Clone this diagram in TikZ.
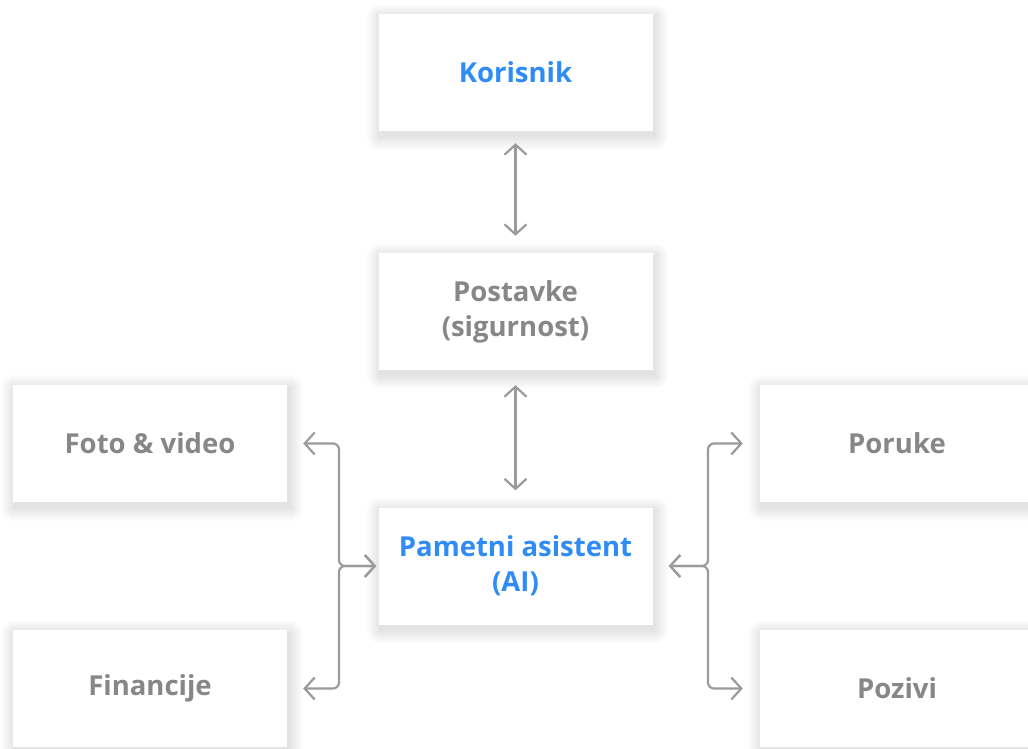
\documentclass[tikz,border=0pt]{standalone}
\usepackage{fontspec}
\setmainfont{Open Sans}
\usetikzlibrary{arrows.meta,backgrounds}
\definecolor{lineg}{HTML}{9B9B9B}
\definecolor{txtg}{HTML}{878787}
\definecolor{txtb}{HTML}{2F8CF6}
\tikzset{
  box/.style={rectangle, fill=white, minimum width=274pt, minimum height=117pt, inner sep=0pt,
    align=center, font=\bfseries\fontsize{27.5}{35}\selectfont, text=txtg},
  hl/.style={text=txtb},
  shadowlayer/.style={fill=black, opacity=0.007},
  conn/.style={draw=lineg, line width=2.2pt, {Straight Barb[length=10pt,width=22pt]}-{Straight Barb[length=10pt,width=22pt]}, rounded corners=6pt}
}
\begin{document}
\begin{tikzpicture}[x=1pt,y=-1pt]
\useasboundingbox (0,0) rectangle (1028,749);
\node[box,hl] (kor) at (515.5,72.5) {Korisnik};
\node[box] (post) at (515.5,311.5) {Postavke\\(sigurnost)};
\node[box,hl] (pam) at (515.5,566) {Pametni asistent\\(AI)};
\node[box] (foto) at (150,443.5) {Foto \& video};
\node[box] (fin) at (150,688.5) {Financije};
\node[box] (por) at (897,443.5) {Poruke};
\node[box] (poz) at (897,688.5) {Pozivi};
\begin{scope}[on background layer]
  \fill[white] (0,0) rectangle (1028,749);
  \foreach \n in {kor,post,pam,foto,fin,por,poz}{
    \foreach \i in {1,...,14}{
      \fill[shadowlayer, rounded corners=\i pt]
        ([xshift=-\i pt+2pt, yshift=\i pt-4pt]\n.north west) rectangle
        ([xshift=\i pt+2pt, yshift=-\i pt-5pt]\n.south east);
    }
  }
\end{scope}
\coordinate (jl) at (339,566);
\coordinate (jr) at (708,566);
\draw[conn, shorten <=12pt, shorten >=17pt] (kor.south) -- (post.north);
\draw[conn, shorten <=15pt, shorten >=17pt] (post.south) -- (pam.north);
\draw[conn, shorten <=16pt, shorten >=2pt] (foto.east) -| (jl) -- (pam.west);
\draw[conn, shorten <=16pt, shorten >=2pt] (fin.east) -| (jl) -- (pam.west);
\draw[conn, shorten <=17pt, shorten >=16pt] (por.west) -| (jr) -- (pam.east);
\draw[conn, shorten <=17pt, shorten >=16pt] (poz.west) -| (jr) -- (pam.east);
\end{tikzpicture}
\end{document}
